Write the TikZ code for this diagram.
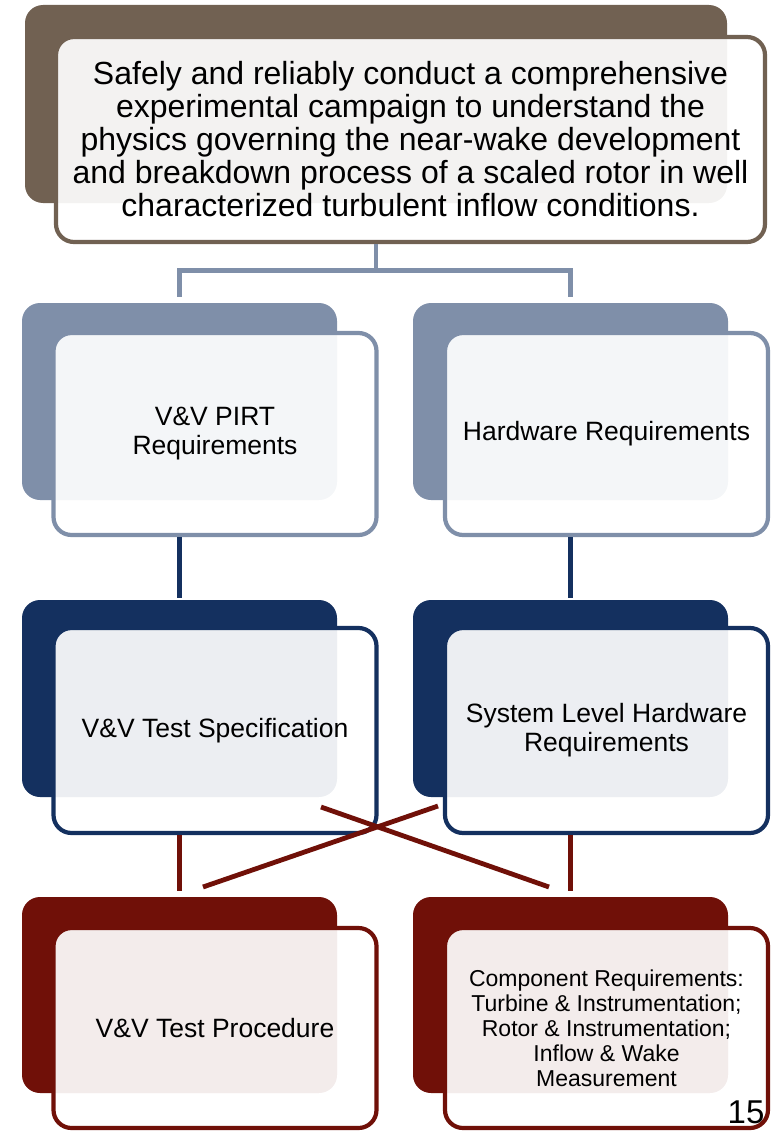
\documentclass[tikz,border=0pt]{standalone}
\usepackage{fontspec}
\setmainfont{Liberation Sans}
\usetikzlibrary{calc}

\definecolor{goalbrown}{RGB}{113,97,82}
\definecolor{slate}{RGB}{127,143,169}
\definecolor{navy}{RGB}{20,48,95}
\definecolor{darkred}{RGB}{112,16,8}

\begin{document}
\begin{tikzpicture}[x=1pt, y=-1pt,
    backbox/.style={rectangle, rounded corners=18pt, inner sep=0pt, fill=#1,
        minimum width=315pt, minimum height=197pt},
    frontbox/.style={rectangle, rounded corners=18pt, inner sep=0pt, draw=#1,
        line width=4.2pt, fill=white, fill opacity=0.92, text opacity=1,
        minimum width=323pt, minimum height=202pt, align=center,
        font=\fontsize{26.5}{29}\selectfont},
    link/.style={line width=4.8pt, #1}]
    \useasboundingbox (0,0) rectangle (776,1132);

    % Goal
    \node[backbox=goalbrown, minimum width=702pt, minimum height=198pt] (goalback) at (376,104) {};
    \node[frontbox=goalbrown, minimum width=709pt, minimum height=205pt,
        font=\fontsize{32}{33}\selectfont] (goal) at (410.5,139.5)
        {Safely and reliably conduct a comprehensive\\experimental campaign to understand the\\physics governing the near-wake development\\and breakdown process of a scaled rotor in well\\characterized turbulent inflow conditions.};

    % Requirements
    \node[backbox=slate] (pirtback) at (179.5,401.5) {};
    \node[frontbox=slate] (pirt) at (215,434) {V\&V PIRT\\Requirements};
    \node[backbox=slate] (hwback) at (570.5,401.5) {};
    \node[frontbox=slate] (hw) at (606.5,434) {Hardware Requirements};

    % Specifications
    \node[backbox=navy] (specback) at (179.5,698.5) {};
    \node[frontbox=navy, minimum height=205pt] (spec) at (215,730.5) {V\&V Test Specification};
    \node[backbox=navy] (syshwback) at (570.5,698.5) {};
    \node[frontbox=navy, minimum height=205pt] (syshw) at (606.5,730.5) {System Level Hardware\\Requirements};

    % Procedures
    \node[backbox=darkred, minimum height=196pt] (procback) at (179.5,995) {};
    \node[frontbox=darkred, minimum height=200pt] (proc) at (215,1028) {V\&V Test Procedure};
    \node[backbox=darkred, minimum height=196pt] (compback) at (570.5,995) {};
    \node[frontbox=darkred, minimum height=200pt, font=\fontsize{23}{25}\selectfont] (comp) at (606.5,1028)
        {Component Requirements:\\Turbine \& Instrumentation;\\Rotor \& Instrumentation;\\Inflow \& Wake\\Measurement};

    % Links
    \draw[link=slate, shorten >=6pt] (goalback.south |- goal.south) -- ++(0,26) coordinate (split)
        -| (pirtback.north);
    \draw[link=slate, shorten >=6pt] (split) -| (hwback.north);
    \draw[link=navy, shorten >=2pt] (pirtback.south |- pirt.south) -- (specback.north);
    \draw[link=navy, shorten >=2pt] (hwback.south |- hw.south) -- (syshwback.north);
    \draw[link=darkred, shorten >=6pt] (specback.south |- spec.south) -- (procback.north);
    \draw[link=darkred, shorten >=6pt] (syshwback.south |- syshw.south) -- (compback.north);

    % Cross links
    \coordinate (specx) at (321,807);
    \coordinate (syshwx) at (438,806);
    \coordinate (procx) at (203,887);
    \coordinate (compx) at (549,887);
    \draw[link=darkred] (specx) -- (compx);
    \draw[link=darkred] (syshwx) -- (procx);

    % Page number
    \node[font=\fontsize{33}{33}\selectfont, inner sep=0pt] (pagenum) at (746,1112) {15};
\end{tikzpicture}
\end{document}
